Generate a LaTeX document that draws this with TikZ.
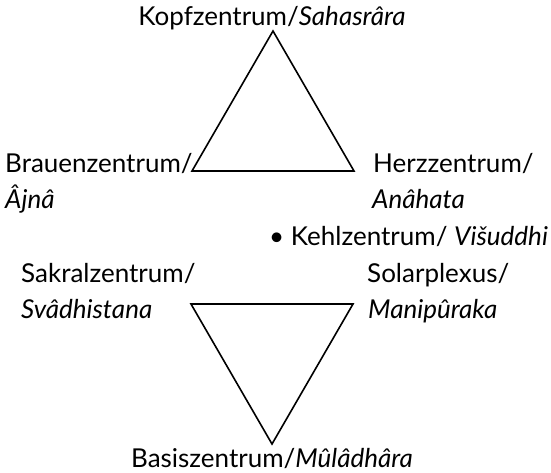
\documentclass[tikz,border=0pt]{standalone}
\usepackage{fontspec}
\setmainfont{Lato}
\usetikzlibrary{positioning}
\begin{document}
\begin{tikzpicture}[x=1pt,y=-1pt,
  chakra/.style={font=\fontsize{26}{37}\selectfont,inner sep=0pt,anchor=base west},
  chakramid/.style={chakra,anchor=base},
  tri/.style={draw=black,line width=1.6pt,line join=miter}
]
\useasboundingbox (0,0) rectangle (551,472);
% upper triangle
\coordinate (ua) at (273,31);
\coordinate (ul) at (192,171);
\coordinate (ur) at (354,171);
\draw[tri] (ua) -- (ul) -- (ur) -- cycle;
% lower triangle
\coordinate (ll) at (191,304);
\coordinate (lr) at (353,304);
\coordinate (lb) at (272,444);
\draw[tri] (ll) -- (lr) -- (lb) -- cycle;
% labels
\node[chakramid] (kopf) at (272,25) {Kopfzentrum/\textit{Sahasrâra}};
\node[chakra] (brauen) at (5,172) {Brauenzentrum/};
\node[chakra] (ajna) at (5,208) {\textit{Âjnâ}};
\node[chakra] (herz) at (373,172) {Herzzentrum/};
\node[chakra] (anahata) at (372,208) {\textit{Anâhata}};
\node[chakra] (kehl) at (269,245) {\textbullet\ Kehlzentrum/ \textit{Višuddhi}};
\node[chakra] (sakral) at (21,282) {Sakralzentrum/};
\node[chakra] (svadhi) at (21,318) {\textit{Svâdhistana}};
\node[chakra] (solar) at (367,282) {Solarplexus/};
\node[chakra] (mani) at (368,318) {\textit{Manipûraka}};
\node[chakramid] (basis) at (272,467) {Basiszentrum/\textit{Mûlâdhâra}};
\end{tikzpicture}
\end{document}
